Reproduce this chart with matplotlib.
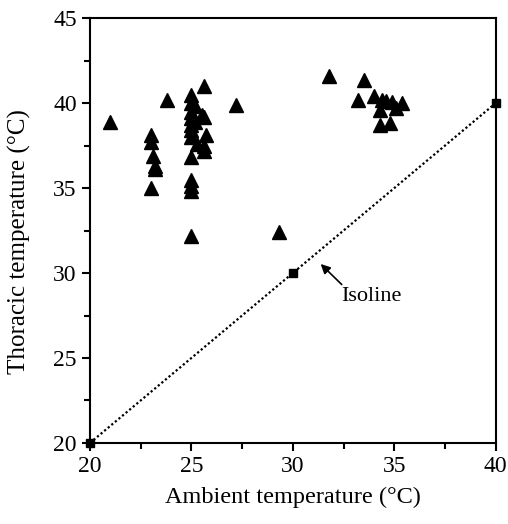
import matplotlib.pyplot as plt
from matplotlib.ticker import MultipleLocator

ambient = [21.0, 23.0, 23.0, 23.1, 23.2, 23.2, 23.0, 23.8,
           25.0, 25.0, 25.0, 25.0, 25.0, 25.0, 25.0, 25.0, 25.0, 25.0, 25.0, 25.0,
           25.2, 25.3, 25.2, 25.5, 25.6, 25.6, 25.7, 25.6, 25.6,
           27.2, 29.3, 31.8, 33.5, 33.2, 34.0, 34.4, 34.6, 34.9, 35.4,
           34.3, 35.1, 34.3, 34.8]
thoracic = [38.9, 38.1, 37.7, 36.9, 36.3, 36.1, 35.0, 40.2,
            40.5, 40.0, 39.5, 39.1, 38.7, 38.4, 38.0, 36.8, 35.5, 35.1, 34.8, 32.2,
            39.8, 37.6, 38.9, 39.3, 41.0, 39.2, 38.1, 37.5, 37.2,
            39.9, 32.4, 41.6, 41.35, 40.15, 40.4, 40.2, 40.1, 40.05, 40.0,
            39.6, 39.7, 38.7, 38.8]

iso_x = [20, 30, 40]
iso_y = [20, 30, 40]

plt.rcParams['font.family'] = ['Liberation Serif', 'DejaVu Serif']

fig = plt.figure(figsize=(5.08, 5.24), dpi=100)
ax = fig.add_axes([0.177, 0.1546, 0.799, 0.811])

ax.plot(iso_x, iso_y, linestyle=(0, (1, 1.1)), color='black', linewidth=1.6,
        marker='s', markersize=6, clip_on=False, zorder=3)
ax.plot(ambient, thoracic, linestyle='none', marker='^', color='black',
        markersize=10.5, zorder=4)

ax.annotate("Isoline", xy=(31.37, 30.53), xytext=(32.4, 28.6),
            fontsize=16, va='center', ha='left',
            arrowprops=dict(arrowstyle='-|>', color='black', lw=1.2,
                            shrinkA=0, shrinkB=0, mutation_scale=14,
                            relpos=(0.05, 1.0)))

ax.set_xlim(20, 40)
ax.set_ylim(20, 45)
ax.xaxis.set_major_locator(MultipleLocator(5))
ax.xaxis.set_minor_locator(MultipleLocator(2.5))
ax.yaxis.set_major_locator(MultipleLocator(5))
ax.yaxis.set_minor_locator(MultipleLocator(2.5))
ax.tick_params(which='both', direction='out', width=1.5, labelsize=17)
ax.tick_params(which='major', length=6)
ax.tick_params(which='minor', length=4)
for s in ax.spines.values():
    s.set_linewidth(1.5)

ax.set_xlabel("Ambient temperature (\u00b0C)", fontsize=17.5, labelpad=7)
ax.set_ylabel("Thoracic temperature (\u00b0C)", fontsize=18)
ax.yaxis.set_label_coords(-0.145, 0.475)

fig.savefig("out.png", dpi=100)
